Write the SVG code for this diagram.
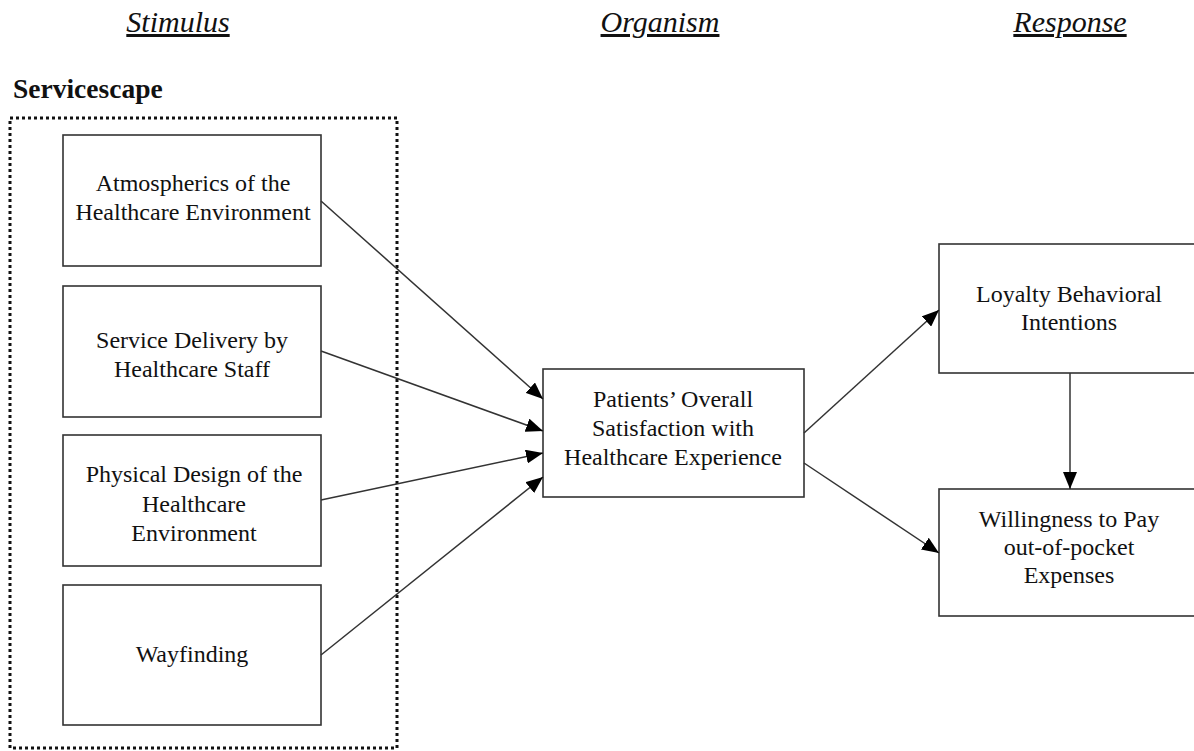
<svg xmlns="http://www.w3.org/2000/svg" width="1194" height="751" viewBox="0 0 1194 751">
<style>
.box{fill:#fff;stroke:#333;stroke-width:1.6}
.t{font-family:"Liberation Serif","Times New Roman",serif;font-size:24px;fill:#111;text-anchor:middle}
.h{font-family:"Liberation Serif","Times New Roman",serif;font-size:30px;font-style:italic;fill:#111;text-anchor:middle;text-decoration:underline}
.c{stroke:#333;stroke-width:1.5;fill:none;marker-end:url(#ah)}
</style>
<defs>
<marker id="ah" markerWidth="17" markerHeight="14" refX="17" refY="7" orient="auto" markerUnits="userSpaceOnUse">
<path d="M0,0 L17,7 L0,14 Z" fill="#000"/>
</marker>
</defs>
<rect width="1194" height="751" fill="#fff"/>
<g id="headers">
<text class="h" x="178" y="32">Stimulus</text>
<text class="h" x="660" y="32">Organism</text>
<text class="h" x="1070" y="32">Response</text>
</g>
<g id="servicescape">
<text x="13" y="98" font-family="Liberation Serif,Times New Roman,serif" font-size="27.5" font-weight="bold" fill="#111">Servicescape</text>
<rect x="10" y="118" width="387" height="630" fill="none" stroke="#111" stroke-width="3" stroke-dasharray="3 3"/>
</g>
<g id="atmospherics">
<rect class="box" x="63" y="135" width="258" height="131"/>
<text class="t" x="193" y="191">Atmospherics of the</text>
<text class="t" x="193" y="220">Healthcare Environment</text>
</g>
<g id="service">
<rect class="box" x="63" y="286" width="258" height="131"/>
<text class="t" x="192" y="348">Service Delivery by</text>
<text class="t" x="192" y="377">Healthcare Staff</text>
</g>
<g id="physical">
<rect class="box" x="63" y="435" width="258" height="131"/>
<text class="t" x="194" y="482">Physical Design of the</text>
<text class="t" x="194" y="512">Healthcare</text>
<text class="t" x="194" y="541">Environment</text>
</g>
<g id="wayfinding">
<rect class="box" x="63" y="585" width="258" height="140"/>
<text class="t" x="192" y="662">Wayfinding</text>
</g>
<g id="satisfaction">
<rect class="box" x="543" y="369" width="261" height="128"/>
<text class="t" x="673" y="407">Patients’ Overall</text>
<text class="t" x="673" y="436">Satisfaction with</text>
<text class="t" x="673" y="465">Healthcare Experience</text>
</g>
<g id="loyalty">
<rect class="box" x="939" y="244" width="262" height="129"/>
<text class="t" x="1069" y="302">Loyalty Behavioral</text>
<text class="t" x="1069" y="330">Intentions</text>
</g>
<g id="willingness">
<rect class="box" x="939" y="489" width="262" height="127"/>
<text class="t" x="1069" y="527">Willingness to Pay</text>
<text class="t" x="1069" y="555">out-of-pocket</text>
<text class="t" x="1069" y="583">Expenses</text>
</g>
<g id="connectors">
<line class="c" x1="321" y1="201" x2="543" y2="399"/>
<line class="c" x1="321" y1="351" x2="543" y2="431"/>
<line class="c" x1="321" y1="500" x2="543" y2="453"/>
<line class="c" x1="321" y1="655" x2="543" y2="477"/>
<line class="c" x1="804" y1="433" x2="939" y2="310"/>
<line class="c" x1="804" y1="463" x2="939" y2="553"/>
<line class="c" x1="1070" y1="373" x2="1070" y2="489"/>
</g>
</svg>
